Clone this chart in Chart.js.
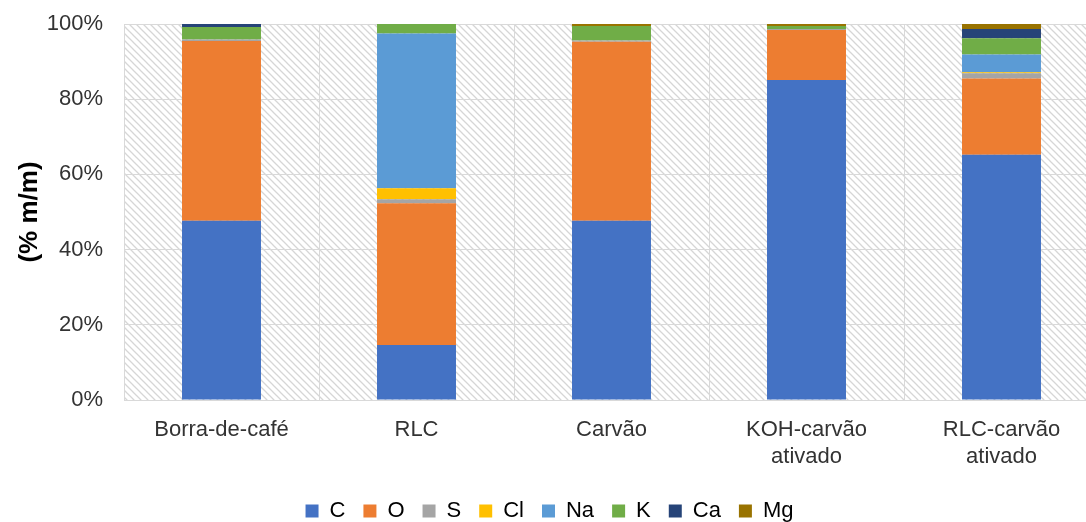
<!DOCTYPE html>
<html>
<head>
<meta charset="utf-8">
<script src="https://cdn.jsdelivr.net/npm/chart.js@4/dist/chart.umd.min.js"></script>
<style>
  html, body { margin: 0; padding: 0; background: #ffffff; overflow: hidden; }
  #wrap { width: 1110px; height: 522px; }
  canvas { display: block; }
</style>
</head>
<body>
<div id="wrap"><canvas id="chart" width="1110" height="522"></canvas></div>
<script>
// Samples on the x axis
const categories = ['Borra-de-café', 'RLC', 'Carvão', ['KOH-carvão', 'ativado'], ['RLC-carvão', 'ativado']];

// Elemental composition, % m/m, one array per element
const C  = [47.7, 14.6, 47.7, 85.1, 65.2];
const O  = [47.8, 37.7, 47.6, 13.3, 20.3];
const S  = [0.4, 1.1, 0.3, 0.3, 1.4];
const Cl = [0, 2.9, 0, 0, 0.3];
const Na = [0, 41.2, 0, 0, 4.7];
const K  = [3.3, 2.5, 3.9, 0.8, 4.3];
const Ca = [0.8, 0, 0, 0, 2.5];
const Mg = [0, 0, 0.5, 0.5, 1.3];

// Y axis ticks
const yTicks = [0, 20, 40, 60, 80, 100];

const seriesNames = ['C', 'O', 'S', 'Cl', 'Na', 'K', 'Ca', 'Mg'];
const seriesValues = [C, O, S, Cl, Na, K, Ca, Mg];
const seriesColors = ['#4472C4', '#ED7D31', '#A5A5A5', '#FFC000', '#5B9BD5', '#70AD47', '#264478', '#997300'];

const FONT = '"Liberation Sans", Arial, sans-serif';

// Diagonal hatch fill behind the plot area
function makeHatch() {
  const p = document.createElement('canvas');
  p.width = 7; p.height = 7;
  const g = p.getContext('2d');
  g.strokeStyle = '#d6d6d6';
  g.lineWidth = 1.3;
  g.beginPath();
  g.moveTo(-1, -1); g.lineTo(8, 8);
  g.moveTo(-8, -1); g.lineTo(1, 8);
  g.moveTo(6, -1); g.lineTo(15, 8);
  g.stroke();
  return p;
}

const hatchPlugin = {
  id: 'hatchBackground',
  beforeDraw(chart) {
    const { ctx, chartArea: a } = chart;
    ctx.save();
    ctx.fillStyle = ctx.createPattern(makeHatch(), 'repeat');
    ctx.fillRect(a.left, a.top, a.right - a.left, a.bottom - a.top);
    ctx.restore();
  }
};

new Chart(document.getElementById('chart'), {
  type: 'bar',
  data: {
    labels: categories,
    datasets: seriesNames.map((name, i) => ({
      label: name,
      data: seriesValues[i],
      backgroundColor: seriesColors[i],
      borderWidth: 0,
      categoryPercentage: 1,
      barPercentage: 0.405
    }))
  },
  options: {
    responsive: false,
    animation: false,
    layout: { padding: { top: 24, left: 0, right: 11, bottom: -10 } },
    plugins: {
      tooltip: { enabled: false },
      legend: {
        position: 'bottom',
        labels: {
          boxWidth: 13,
          boxHeight: 13,
          padding: 18,
          color: '#000000',
          font: { family: FONT, size: 22 }
        }
      }
    },
    scales: {
      x: {
        stacked: true,
        grid: { color: '#d9d9d9', lineWidth: 1, drawTicks: false },
        border: { color: '#d9d9d9' },
        ticks: {
          color: '#333333',
          padding: 17,
          maxRotation: 0,
          autoSkip: false,
          font: { family: FONT, size: 22, lineHeight: 1.2 }
        },
        afterFit(scale) { scale.height = 82; }
      },
      y: {
        stacked: true,
        min: 0,
        max: 100,
        afterBuildTicks(scale) { scale.ticks = yTicks.map(v => ({ value: v })); },
        grid: { color: '#d9d9d9', lineWidth: 1, drawTicks: false },
        border: { color: '#d9d9d9' },
        ticks: {
          color: '#333333',
          padding: 21,
          font: { family: FONT, size: 22 },
          callback: v => v + '%'
        },
        title: {
          display: true,
          text: '(% m/m)',
          color: '#000000',
          font: { family: FONT, size: 26, weight: 'bold' },
          padding: { top: 14, bottom: 0 }
        },
        afterFit(scale) {
          scale.width = 124;
          scale.paddingTop = 0;
          scale.paddingBottom = 0;
        }
      }
    }
  },
  plugins: [hatchPlugin]
});
</script>
</body>
</html>
